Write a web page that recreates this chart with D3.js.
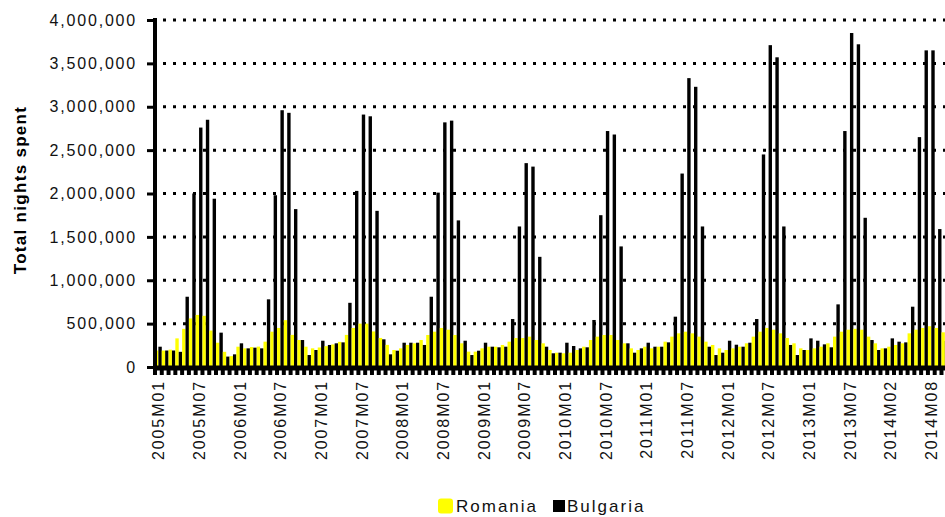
<!DOCTYPE html>
<html>
<head>
<meta charset="utf-8">
<script src="https://cdn.jsdelivr.net/npm/d3@7"></script>
<style>
  html, body { margin: 0; padding: 0; background: #fff; }
  svg { display: block; font-family: "Liberation Sans", Arial, sans-serif; }
</style>
</head>
<body>
<svg id="chart" width="945" height="517"></svg>
<script>
// Monthly periods (2014M01 is not present in the series)
const categories = [
  "2005M01","2005M02","2005M03","2005M04","2005M05","2005M06","2005M07","2005M08","2005M09","2005M10","2005M11","2005M12",
  "2006M01","2006M02","2006M03","2006M04","2006M05","2006M06","2006M07","2006M08","2006M09","2006M10","2006M11","2006M12",
  "2007M01","2007M02","2007M03","2007M04","2007M05","2007M06","2007M07","2007M08","2007M09","2007M10","2007M11","2007M12",
  "2008M01","2008M02","2008M03","2008M04","2008M05","2008M06","2008M07","2008M08","2008M09","2008M10","2008M11","2008M12",
  "2009M01","2009M02","2009M03","2009M04","2009M05","2009M06","2009M07","2009M08","2009M09","2009M10","2009M11","2009M12",
  "2010M01","2010M02","2010M03","2010M04","2010M05","2010M06","2010M07","2010M08","2010M09","2010M10","2010M11","2010M12",
  "2011M01","2011M02","2011M03","2011M04","2011M05","2011M06","2011M07","2011M08","2011M09","2011M10","2011M11","2011M12",
  "2012M01","2012M02","2012M03","2012M04","2012M05","2012M06","2012M07","2012M08","2012M09","2012M10","2012M11","2012M12",
  "2013M01","2013M02","2013M03","2013M04","2013M05","2013M06","2013M07","2013M08","2013M09","2013M10","2013M11","2013M12",
  "2014M02","2014M03","2014M04","2014M05","2014M06","2014M07","2014M08","2014M09","2014M10","2014M11","2014M12"
];

// Total nights spent, Romania
const romania = [
  190000, 190000, 200000, 330000, 440000, 560000, 600000, 590000, 420000, 280000, 175000, 125000,
  234000, 215000, 230000, 235000, 292000, 407000, 450000, 540000, 370000, 311000, 234000, 215000,
  225000, 240000, 260000, 290000, 370000, 450000, 500000, 500000, 410000, 335000, 255000, 196000,
  215000, 254000, 273000, 311000, 369000, 407000, 450000, 430000, 369000, 273000, 177000, 177000,
  215000, 234000, 234000, 254000, 292000, 334000, 334000, 350000, 311000, 273000, 196000, 165000,
  158000, 165000, 196000, 234000, 311000, 350000, 369000, 369000, 311000, 273000, 215000, 196000,
  234000, 215000, 234000, 292000, 350000, 388000, 407000, 388000, 350000, 292000, 254000, 215000,
  196000, 215000, 234000, 273000, 350000, 407000, 450000, 430000, 388000, 334000, 273000, 215000,
  196000, 215000, 234000, 273000, 350000, 407000, 430000, 440000, 430000, 350000, 273000, 215000,
  234000, 254000, 273000, 388000, 430000, 450000, 470000, 450000, 400000, 250000, 210000
];

// Total nights spent, Bulgaria
const bulgaria = [
  234000, 190000, 190000, 175000, 810000, 2000000, 2760000, 2850000, 1940000, 396000, 120000, 146000,
  273000, 215000, 223000, 215000, 780000, 1980000, 2960000, 2930000, 1820000, 311000, 138000, 196000,
  303000, 254000, 273000, 284000, 740000, 2030000, 2910000, 2890000, 1800000, 319000, 146000, 188000,
  280000, 280000, 280000, 254000, 810000, 2010000, 2820000, 2840000, 1690000, 303000, 138000, 188000,
  280000, 234000, 227000, 234000, 553000, 1620000, 2350000, 2310000, 1270000, 234000, 158000, 165000,
  280000, 242000, 215000, 227000, 542000, 1750000, 2720000, 2680000, 1390000, 273000, 165000, 215000,
  280000, 234000, 234000, 284000, 580000, 2230000, 3330000, 3230000, 1620000, 234000, 138000, 165000,
  303000, 257000, 234000, 280000, 553000, 2450000, 3710000, 3570000, 1620000, 254000, 138000, 196000,
  330000, 303000, 261000, 227000, 722000, 2720000, 3850000, 3720000, 1720000, 311000, 196000, 215000,
  330000, 292000, 284000, 695000, 2650000, 3650000, 3650000, 1590000, 300000, 180000, 220000
];

// Category labels shown on the time axis
const xTickLabels = [
  "2005M01","2005M07","2006M01","2006M07","2007M01","2007M07","2008M01","2008M07",
  "2009M01","2009M07","2010M01","2010M07","2011M01","2011M07","2012M01","2012M07",
  "2013M01","2013M07","2014M02","2014M08"
];

const yTicks = [0, 500000, 1000000, 1500000, 2000000, 2500000, 3000000, 3500000, 4000000];

const seriesNames = ["Romania", "Bulgaria"];
const seriesColors = ["#FFFF00", "#000000"];
const seriesValues = [romania, bulgaria];

const svg = d3.select("#chart");

const plotLeft = 155, plotTop = 20, plotBottom = 367;
const step = 6.78;

const x = d3.scaleBand()
  .domain(categories)
  .range([plotLeft, plotLeft + step * categories.length])
  .paddingInner(0).paddingOuter(0);

const xSub = d3.scaleBand()
  .domain(seriesNames)
  .range([0, x.bandwidth()])
  .padding(0);

const y = d3.scaleLinear().domain([0, 4000000]).range([plotBottom, plotTop]);

// Dotted horizontal gridlines
svg.append("g")
  .selectAll("line")
  .data(yTicks.filter(d => d > 0))
  .join("line")
  .attr("x1", plotLeft + 2)
  .attr("x2", 960)
  .attr("y1", d => y(d))
  .attr("y2", d => y(d))
  .attr("stroke", "#000")
  .attr("stroke-width", 3)
  .attr("stroke-dasharray", "3,7")
  .attr("stroke-dashoffset", -6);

// Clustered columns
const rows = categories.map((c, i) => ({ cat: c, vals: seriesValues.map(s => s[i]) }));

const groups = svg.append("g")
  .selectAll("g")
  .data(rows)
  .join("g")
  .attr("transform", d => `translate(${x(d.cat)},0)`);

groups.selectAll("rect")
  .data(d => d.vals.map((v, k) => ({ name: seriesNames[k], v, color: seriesColors[k] })))
  .join("rect")
  .attr("x", d => xSub(d.name))
  .attr("width", xSub.bandwidth())
  .attr("y", d => y(d.v))
  .attr("height", d => plotBottom - y(d.v))
  .attr("fill", d => d.color);

// Horizontal axis with a tick at every month
const xAxis = d3.axisBottom(x)
  .tickSize(8)
  .tickFormat("");
const gx = svg.append("g")
  .attr("transform", `translate(0,${plotBottom})`)
  .call(xAxis);
gx.select(".domain").remove();
gx.selectAll(".tick line")
  .attr("transform", `translate(${-x.bandwidth() / 2},0)`)
  .attr("stroke", "#000")
  .attr("stroke-width", 4);
gx.append("line")
  .attr("x1", plotLeft).attr("x2", 960)
  .attr("y1", 1).attr("y2", 1)
  .attr("stroke", "#000").attr("stroke-width", 5);

// Category labels, rotated
svg.append("g")
  .selectAll("text")
  .data(xTickLabels)
  .join("text")
  .attr("transform", d => `translate(${x(d) + x.bandwidth() / 2},380) rotate(-90)`)
  .attr("text-anchor", "end")
  .attr("dy", "0.36em")
  .attr("font-size", 16)
  .attr("letter-spacing", 1.9)
  .attr("fill", "#111")
  .text(d => d);

// Vertical axis
const yAxis = d3.axisLeft(y)
  .tickValues(yTicks)
  .tickSize(8)
  .tickPadding(10)
  .tickFormat(d3.format(","));
const gy = svg.append("g")
  .attr("transform", `translate(${plotLeft},0)`)
  .call(yAxis);
gy.select(".domain")
  .attr("d", `M0,${plotTop - 2}V${plotBottom + 3}`)
  .attr("stroke", "#000")
  .attr("stroke-width", 4);
gy.selectAll(".tick line").attr("stroke", "#000").attr("stroke-width", 3);
gy.selectAll(".tick text")
  .attr("font-size", 16)
  .attr("letter-spacing", 1.8)
  .attr("fill", "#111")
  .attr("font-family", "Liberation Sans, Arial, sans-serif");

// Axis title
svg.append("text")
  .attr("transform", "translate(26,190) rotate(-90)")
  .attr("text-anchor", "middle")
  .attr("font-size", 17)
  .attr("font-weight", "bold")
  .attr("letter-spacing", 1.3)
  .attr("fill", "#000")
  .text("Total nights spent");

// Legend
const legend = svg.append("g");
const legendItems = [
  { name: "Romania", color: seriesColors[0], x: 438, size: 15 },
  { name: "Bulgaria", color: seriesColors[1], x: 553, size: 12 }
];
legendItems.forEach(it => {
  legend.append("rect")
    .attr("x", it.x).attr("y", 506 - it.size / 2)
    .attr("width", it.size).attr("height", it.size)
    .attr("rx", it.size > 13 ? 3 : 0)
    .attr("fill", it.color);
  legend.append("text")
    .attr("x", it.x + (it.size > 13 ? 18 : 14))
    .attr("y", 506)
    .attr("dy", "0.36em")
    .attr("font-size", 17)
    .attr("letter-spacing", 2)
    .attr("fill", "#111")
    .text(it.name);
});
</script>
</body>
</html>
